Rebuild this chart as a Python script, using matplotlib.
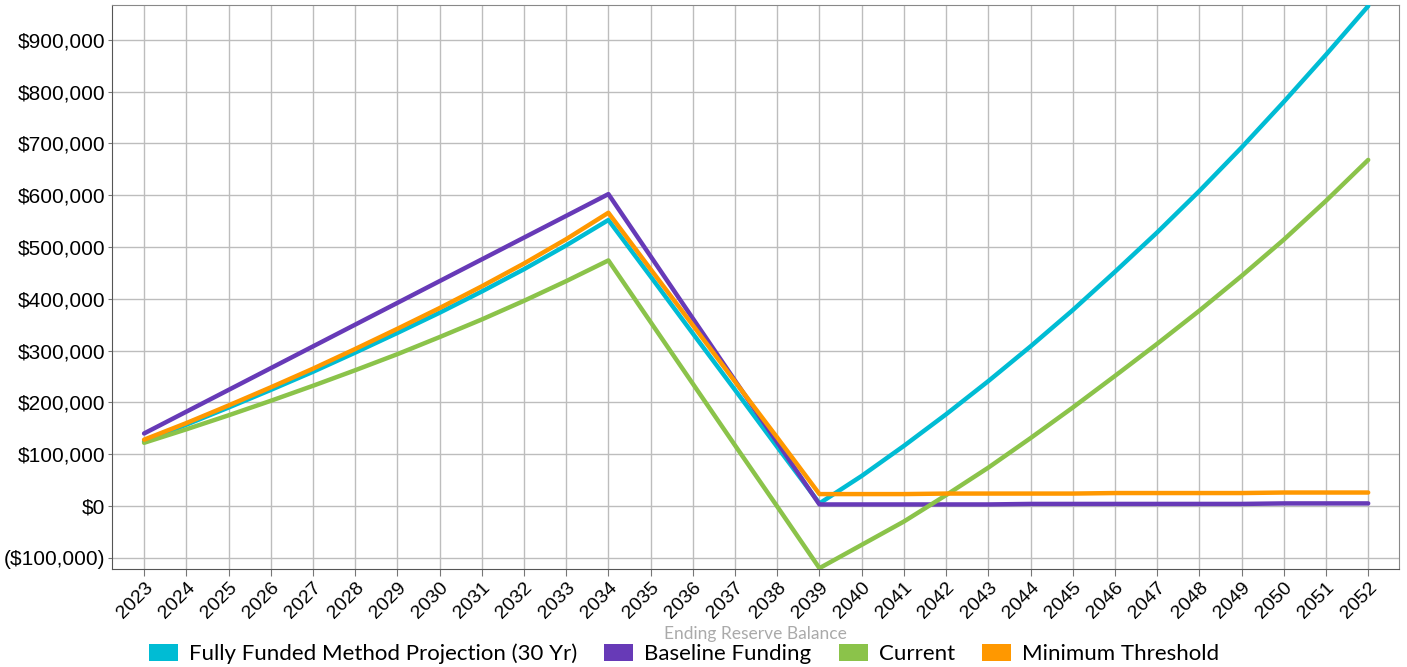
import numpy as np
import matplotlib.pyplot as plt
from matplotlib.patches import Patch
from matplotlib.ticker import FuncFormatter

plt.rcParams['font.family'] = ['Liberation Sans', 'DejaVu Sans']

# data (values in thousands of dollars)
years = list(range(2023, 2053))

fully_funded = [125, 157, 190, 224, 259, 296, 334, 373, 414, 457, 503, 552,
                443, 333, 224, 114, 5,
                58, 116, 177, 241, 308, 378, 452, 528, 608, 692, 780, 871, 965]
baseline = [140, 182, 224, 266, 308, 350, 392, 434, 476, 518, 560, 602,
            482, 362, 242, 123, 3,
            3, 3, 3, 3, 4, 4, 4, 4, 4, 4, 5, 5, 5]
current = [122, 148, 175, 203, 232, 262, 293, 326, 360, 396, 434, 474,
           355, 236, 117, -1, -120,
           -75, -30, 21, 74, 131, 190, 251, 313, 377, 444, 514, 589, 668]
minimum = [128, 160, 194, 229, 265, 303, 342, 382, 424, 468, 515, 566,
           457, 349, 240, 132, 23,
           23, 23, 24, 24, 24, 24, 25, 25, 25, 25, 26, 26, 26]

labels = ['Fully Funded Method Projection (30 Yr)', 'Baseline Funding',
          'Current', 'Minimum Threshold']
colors = ['#00bcd4', '#673ab7', '#8bc34a', '#ff9800']
series = [fully_funded, baseline, current, minimum]

fig = plt.figure(figsize=(14.07, 6.67), dpi=100)
ax = fig.add_axes([112/1407, 1-569/667, (1399-112)/1407, (569-5)/667])

for vals, c in zip(series, colors):
    ax.plot(years, np.array(vals)*1000, color=c, lw=3.2, solid_capstyle='round', zorder=3)

ax.set_xlim(2022.24, 2052.73)
ax.set_ylim(-121600, 967000)
ax.set_xticks(years)
ax.set_xticklabels([str(y) for y in years], rotation=45, ha='right', rotation_mode='anchor')
ax.set_yticks(np.arange(-100000, 900001, 100000))

def money(v, pos):
    if v < 0:
        return '(${:,.0f})'.format(-v)
    return '${:,.0f}'.format(v)

ax.yaxis.set_major_formatter(FuncFormatter(money))
ax.tick_params(axis='x', labelsize=14, labelfontfamily='Liberation Sans', length=5, pad=2)
ax.tick_params(axis='y', labelsize=15, labelfontfamily='Liberation Sans', length=3, pad=2)
ax.tick_params(axis='both', color='#777')
ax.grid(True, color='#bdbdbd', lw=1)
ax.set_axisbelow(True)
for s in ['left', 'bottom']:
    ax.spines[s].set_color('#555')
for s in ['top', 'right']:
    ax.spines[s].set_color('#888')

fig.text(755/1407, 1-634/667, 'Ending Reserve Balance', ha='center', va='center',
         fontsize=12.5, color='#aaaaaa', family='Lato')

handles = [Patch(facecolor=c, edgecolor='none') for c in colors]
fig.legend(handles, labels, loc='center', bbox_to_anchor=(684/1407, 1-654/667), ncol=4,
           frameon=False, prop={'family': 'Lato', 'size': 16},
           handlelength=1.3, handleheight=0.75, handletextpad=0.5, columnspacing=1.22)

fig.savefig('out.png', dpi=100)
